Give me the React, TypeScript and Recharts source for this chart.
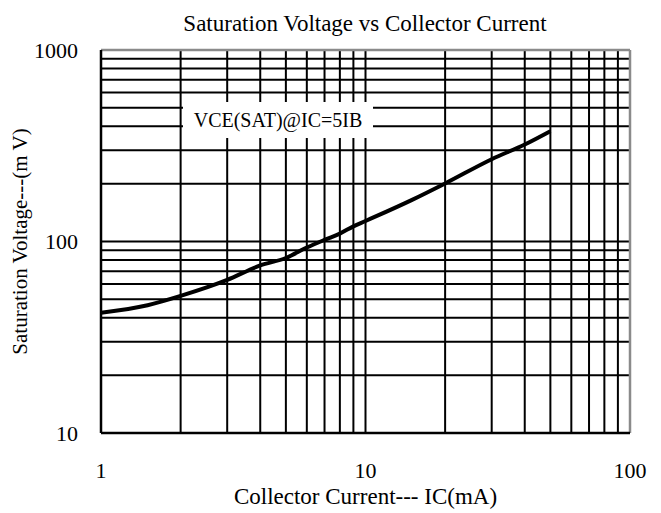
import React from 'react';
import { LineChart, Line, XAxis, YAxis, ReferenceLine } from 'recharts';

// Collector current (mA) vs saturation voltage (mV)
const currentMa = [1, 1.5, 2, 3, 4, 5, 6, 7, 8, 9, 10, 15, 20, 30, 40, 50];
const vsatMv = [42.5, 46.5, 52, 63, 75, 82, 93, 102, 110, 120, 128, 165, 201, 269, 321, 377];

// log grid
const xGrid = [2, 3, 4, 5, 6, 7, 8, 9, 10, 20, 30, 40, 50, 60, 70, 80, 90];
const yGrid = [20, 30, 40, 50, 60, 70, 80, 90, 100, 200, 300, 400, 500, 600, 700, 800, 900];
const xTicks = [1, 10, 100];
const yTicks = [10, 100, 1000];

const data = currentMa.map((ic, i) => ({ ic, vsat: vsatMv[i] }));

const FONT = "'Liberation Serif', 'Times New Roman', serif";

const App: React.FC = () => {
  return (
    <div style={{ position: 'relative', width: 661, height: 513, fontFamily: FONT }}>
      <style>{`body { margin: 0; }`}</style>
      <LineChart
        width={661}
        height={513}
        data={data}
        margin={{ top: 50, right: 31, bottom: 0, left: 0 }}
      >
        {xGrid.map(v => (
          <ReferenceLine key={`x-${v}`} x={v} stroke="#000" strokeWidth={2} />
        ))}
        {yGrid.map(v => (
          <ReferenceLine key={`y-${v}`} y={v} stroke="#000" strokeWidth={2} />
        ))}
        <ReferenceLine y={1000} stroke="#8a8a8a" strokeWidth={2.5} />
        <ReferenceLine x={100} stroke="#8a8a8a" strokeWidth={2.5} />
        <XAxis
          dataKey="ic"
          type="number"
          scale="log"
          domain={[1, 100]}
          ticks={xTicks}
          allowDataOverflow
          height={80}
          tickLine={false}
          tickSize={0}
          tickMargin={29}
          axisLine={{ stroke: '#000', strokeWidth: 2.5 }}
          tick={{ fill: '#000', fontSize: 22, fontFamily: FONT }}
          label={{
            value: 'Collector Current--- IC(mA)',
            position: 'insideBottom',
            offset: 9,
            style: { fill: '#000', fontSize: 23, fontFamily: FONT }
          }}
        />
        <YAxis
          type="number"
          scale="log"
          domain={[10, 1000]}
          ticks={yTicks}
          allowDataOverflow
          width={101}
          tickLine={false}
          tickSize={0}
          tickMargin={23}
          axisLine={{ stroke: '#000', strokeWidth: 2.5 }}
          tick={{ fill: '#000', fontSize: 22, fontFamily: FONT }}
          label={{
            value: 'Saturation Voltage---(m V)',
            angle: -90,
            position: 'insideLeft',
            offset: 20,
            style: { fill: '#000', fontSize: 21, fontFamily: FONT, textAnchor: 'middle' }
          }}
        />
        <Line
          dataKey="vsat"
          type="monotone"
          stroke="#000"
          strokeWidth={4}
          dot={false}
          isAnimationActive={false}
        />
      </LineChart>
      <svg
        width={661}
        height={513}
        style={{ position: 'absolute', left: 0, top: 0, pointerEvents: 'none' }}
      >
        <text x={365} y={31} textAnchor="middle" fontSize={23} fontFamily={FONT} fill="#000">
          Saturation Voltage vs Collector Current
        </text>
        <rect x={183} y={102} width={190} height={36} fill="#fff" />
        <text x={278} y={127} textAnchor="middle" fontSize={20} fontFamily={FONT} fill="#000">
          VCE(SAT)@IC=5IB
        </text>
      </svg>
    </div>
  );
};

export default App;
